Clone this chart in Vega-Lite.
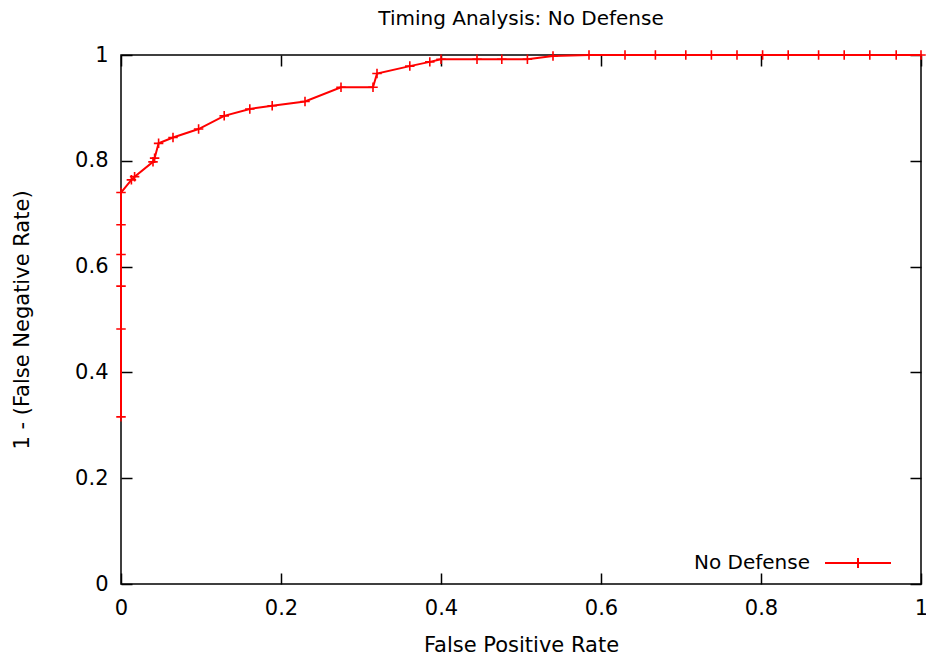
{
  "$schema": "https://vega.github.io/schema/vega-lite/v6.json",
  "width": 800,
  "height": 529,
  "autosize": {"type": "none"},
  "padding": {"left": 121, "top": 55, "right": 5, "bottom": 76},
  "title": {"text": "Timing Analysis: No Defense", "fontSize": 20, "font": "DejaVu Sans", "fontWeight": "normal", "color": "black", "offset": -1, "baseline": "alphabetic"},
  "config": {
    "view": {"stroke": "black", "strokeWidth": 1.5},
    "font": "DejaVu Sans",
    "axis": {"domain": false, "grid": false, "tickColor": "black", "tickWidth": 1.5, "labelColor": "black", "titleColor": "black", "labelFontSize": 21, "titleFontSize": 21, "titleFontWeight": "normal", "labelFont": "DejaVu Sans", "titleFont": "DejaVu Sans"}
  },
  "data": {"values": [
    {"fpr": 0, "tpr": 0.316, "series": "No Defense"},
    {"fpr": 0, "tpr": 0.482, "series": "No Defense"},
    {"fpr": 0, "tpr": 0.563, "series": "No Defense"},
    {"fpr": 0, "tpr": 0.623, "series": "No Defense"},
    {"fpr": 0, "tpr": 0.679, "series": "No Defense"},
    {"fpr": 0, "tpr": 0.740, "series": "No Defense"},
    {"fpr": 0.013, "tpr": 0.764, "series": "No Defense"},
    {"fpr": 0.017, "tpr": 0.770, "series": "No Defense"},
    {"fpr": 0.040, "tpr": 0.798, "series": "No Defense"},
    {"fpr": 0.042, "tpr": 0.805, "series": "No Defense"},
    {"fpr": 0.047, "tpr": 0.833, "series": "No Defense"},
    {"fpr": 0.065, "tpr": 0.844, "series": "No Defense"},
    {"fpr": 0.097, "tpr": 0.860, "series": "No Defense"},
    {"fpr": 0.129, "tpr": 0.885, "series": "No Defense"},
    {"fpr": 0.161, "tpr": 0.898, "series": "No Defense"},
    {"fpr": 0.189, "tpr": 0.904, "series": "No Defense"},
    {"fpr": 0.230, "tpr": 0.912, "series": "No Defense"},
    {"fpr": 0.275, "tpr": 0.939, "series": "No Defense"},
    {"fpr": 0.315, "tpr": 0.939, "series": "No Defense"},
    {"fpr": 0.320, "tpr": 0.965, "series": "No Defense"},
    {"fpr": 0.361, "tpr": 0.979, "series": "No Defense"},
    {"fpr": 0.386, "tpr": 0.987, "series": "No Defense"},
    {"fpr": 0.400, "tpr": 0.992, "series": "No Defense"},
    {"fpr": 0.445, "tpr": 0.992, "series": "No Defense"},
    {"fpr": 0.476, "tpr": 0.992, "series": "No Defense"},
    {"fpr": 0.508, "tpr": 0.992, "series": "No Defense"},
    {"fpr": 0.540, "tpr": 0.998, "series": "No Defense"},
    {"fpr": 0.585, "tpr": 1.0, "series": "No Defense"},
    {"fpr": 0.630, "tpr": 1.0, "series": "No Defense"},
    {"fpr": 0.668, "tpr": 1.0, "series": "No Defense"},
    {"fpr": 0.706, "tpr": 1.0, "series": "No Defense"},
    {"fpr": 0.738, "tpr": 1.0, "series": "No Defense"},
    {"fpr": 0.770, "tpr": 1.0, "series": "No Defense"},
    {"fpr": 0.802, "tpr": 1.0, "series": "No Defense"},
    {"fpr": 0.834, "tpr": 1.0, "series": "No Defense"},
    {"fpr": 0.872, "tpr": 1.0, "series": "No Defense"},
    {"fpr": 0.904, "tpr": 1.0, "series": "No Defense"},
    {"fpr": 0.936, "tpr": 1.0, "series": "No Defense"},
    {"fpr": 0.969, "tpr": 1.0, "series": "No Defense"},
    {"fpr": 1.0, "tpr": 1.0, "series": "No Defense"}
  ]},
  "layer": [
    {
      "mark": {"type": "line", "strokeWidth": 2, "clip": false},
      "encoding": {
        "x": {"field": "fpr", "type": "quantitative", "scale": {"domain": [0, 1], "nice": false},
              "axis": {"orient": "bottom", "title": "False Positive Rate", "values": [0, 0.2, 0.4, 0.6, 0.8, 1], "format": ".1~f", "tickSize": -11, "labelPadding": 24, "titlePadding": 16, "labelFlush": false}},
        "y": {"field": "tpr", "type": "quantitative", "scale": {"domain": [0, 1], "nice": false},
              "axis": {"orient": "left", "title": "1 - (False Negative Rate)", "values": [0, 0.2, 0.4, 0.6, 0.8, 1], "format": ".1~f", "tickSize": -11, "labelPadding": 24, "titlePadding": 42, "labelFlush": false}},
        "color": {"field": "series", "type": "nominal", "scale": {"range": ["#ff0000"]},
                  "legend": {"title": null, "orient": "none", "legendX": 703, "legendY": 474, "padding": 0,
                             "symbolType": "M-1,0H1M0,-0.15V0.15", "symbolSize": 4356, "symbolStrokeWidth": 2, "symbolStrokeColor": "#ff0000", "symbolFillColor": "transparent",
                             "labelAlign": "right", "labelOffset": -82, "labelFontSize": 20, "labelColor": "black", "labelFont": "DejaVu Sans"}}
      }
    },
    {
      "mark": {"type": "point", "shape": "M-1,0H1M0,-1V1", "filled": false, "strokeWidth": 1.6, "size": 90, "clip": false, "opacity": 1},
      "encoding": {
        "x": {"field": "fpr", "type": "quantitative", "scale": {"domain": [0, 1], "nice": false},
              "axis": {"orient": "top", "title": null, "labels": false, "values": [0, 0.2, 0.4, 0.6, 0.8, 1], "tickSize": -11}},
        "y": {"field": "tpr", "type": "quantitative", "scale": {"domain": [0, 1], "nice": false},
              "axis": {"orient": "right", "title": null, "labels": false, "values": [0, 0.2, 0.4, 0.6, 0.8, 1], "tickSize": -11}},
        "color": {"field": "series", "type": "nominal", "scale": {"range": ["#ff0000"]}, "legend": null}
      }
    }
  ],
  "resolve": {"axis": {"x": "independent", "y": "independent"}}
}
